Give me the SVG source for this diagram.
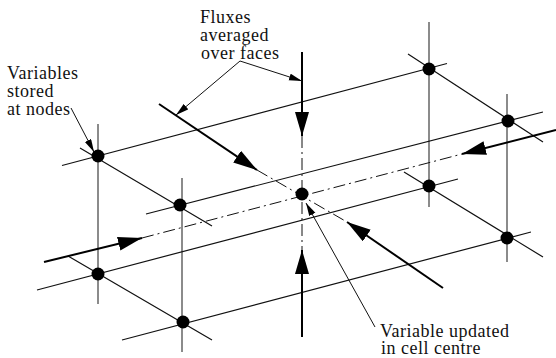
<svg xmlns="http://www.w3.org/2000/svg" width="556" height="358" viewBox="0 0 556 358">
<defs>
<marker id="big" markerUnits="userSpaceOnUse" markerWidth="26" markerHeight="16" refX="24" refY="7" orient="auto"><path d="M0 0L24 7L0 14Z" fill="#000"/></marker>
<marker id="small" markerUnits="userSpaceOnUse" markerWidth="14" markerHeight="8" refX="13" refY="3.5" orient="auto"><path d="M0 0L13 3.5L0 7Z" fill="#000"/></marker>
</defs>
<style>
.g{stroke:#666;stroke-width:1.5;fill:none}
.k{stroke:#111;stroke-width:1.2;fill:none}
.d{stroke:#111;stroke-width:1;fill:none;stroke-dasharray:12 4 2 4}
.f{stroke:#000;stroke-width:2;fill:none;marker-end:url(#big)}
.l{stroke:#111;stroke-width:1;fill:none;marker-end:url(#small)}
.t{font-family:"Liberation Serif","Times New Roman",serif;font-size:18px;letter-spacing:.5px;fill:#111}
.n{fill:#000}
</style>
<g id="connectors">
<path class="g" d="M98 124V304M182 178V352M429 22V207M507 94V262"/>
<path class="k" d="M62 165.5L447 63.5M146 214L543 112M37 290L458 179M122 340L531 232"/>
<path class="k" d="M80 148L212 226M408 54L543 142M68 256L212 340M404 172L543 257"/>
<path class="d" d="M142 238L462 154M302 136V250M257 170L347 222"/>
<path class="f" d="M302 52V136"/>
<path class="f" d="M302 337V250"/>
<path class="f" d="M44 262L142 238"/>
<path class="f" d="M556 130L462 154"/>
<path class="f" d="M159 104L257 170"/>
<path class="f" d="M443 288L347 222"/>
<path class="l" d="M71 108L94 152"/>
<path class="l" d="M240 61L176 115"/>
<path class="l" d="M240 61L302 81"/>
<path class="l" d="M375 327L306 203"/>
</g>
<g id="node-a"><circle class="n" cx="98" cy="156" r="6.5"/></g>
<g id="node-b"><circle class="n" cx="429" cy="69" r="6.5"/></g>
<g id="node-c"><circle class="n" cx="508" cy="121" r="6.5"/></g>
<g id="node-d"><circle class="n" cx="429" cy="186" r="6.5"/></g>
<g id="node-e"><circle class="n" cx="507" cy="238" r="6.5"/></g>
<g id="node-f"><circle class="n" cx="98" cy="274" r="6.5"/></g>
<g id="node-g"><circle class="n" cx="180" cy="205" r="6.5"/></g>
<g id="node-h"><circle class="n" cx="183" cy="322" r="6.5"/></g>
<g id="node-centre"><circle class="n" cx="302" cy="194" r="6.5"/></g>
<g id="label-fluxes"><text class="t" x="200" y="23">Fluxes</text><text class="t" x="200" y="41">averaged</text><text class="t" x="201" y="59">over faces</text></g>
<g id="label-variables"><text class="t" x="7" y="79">Variables</text><text class="t" x="7" y="97">stored</text><text class="t" x="7" y="115">at nodes</text></g>
<g id="label-updated"><text class="t" x="380" y="337">Variable updated</text><text class="t" x="381" y="354">in cell centre</text></g>
</svg>
